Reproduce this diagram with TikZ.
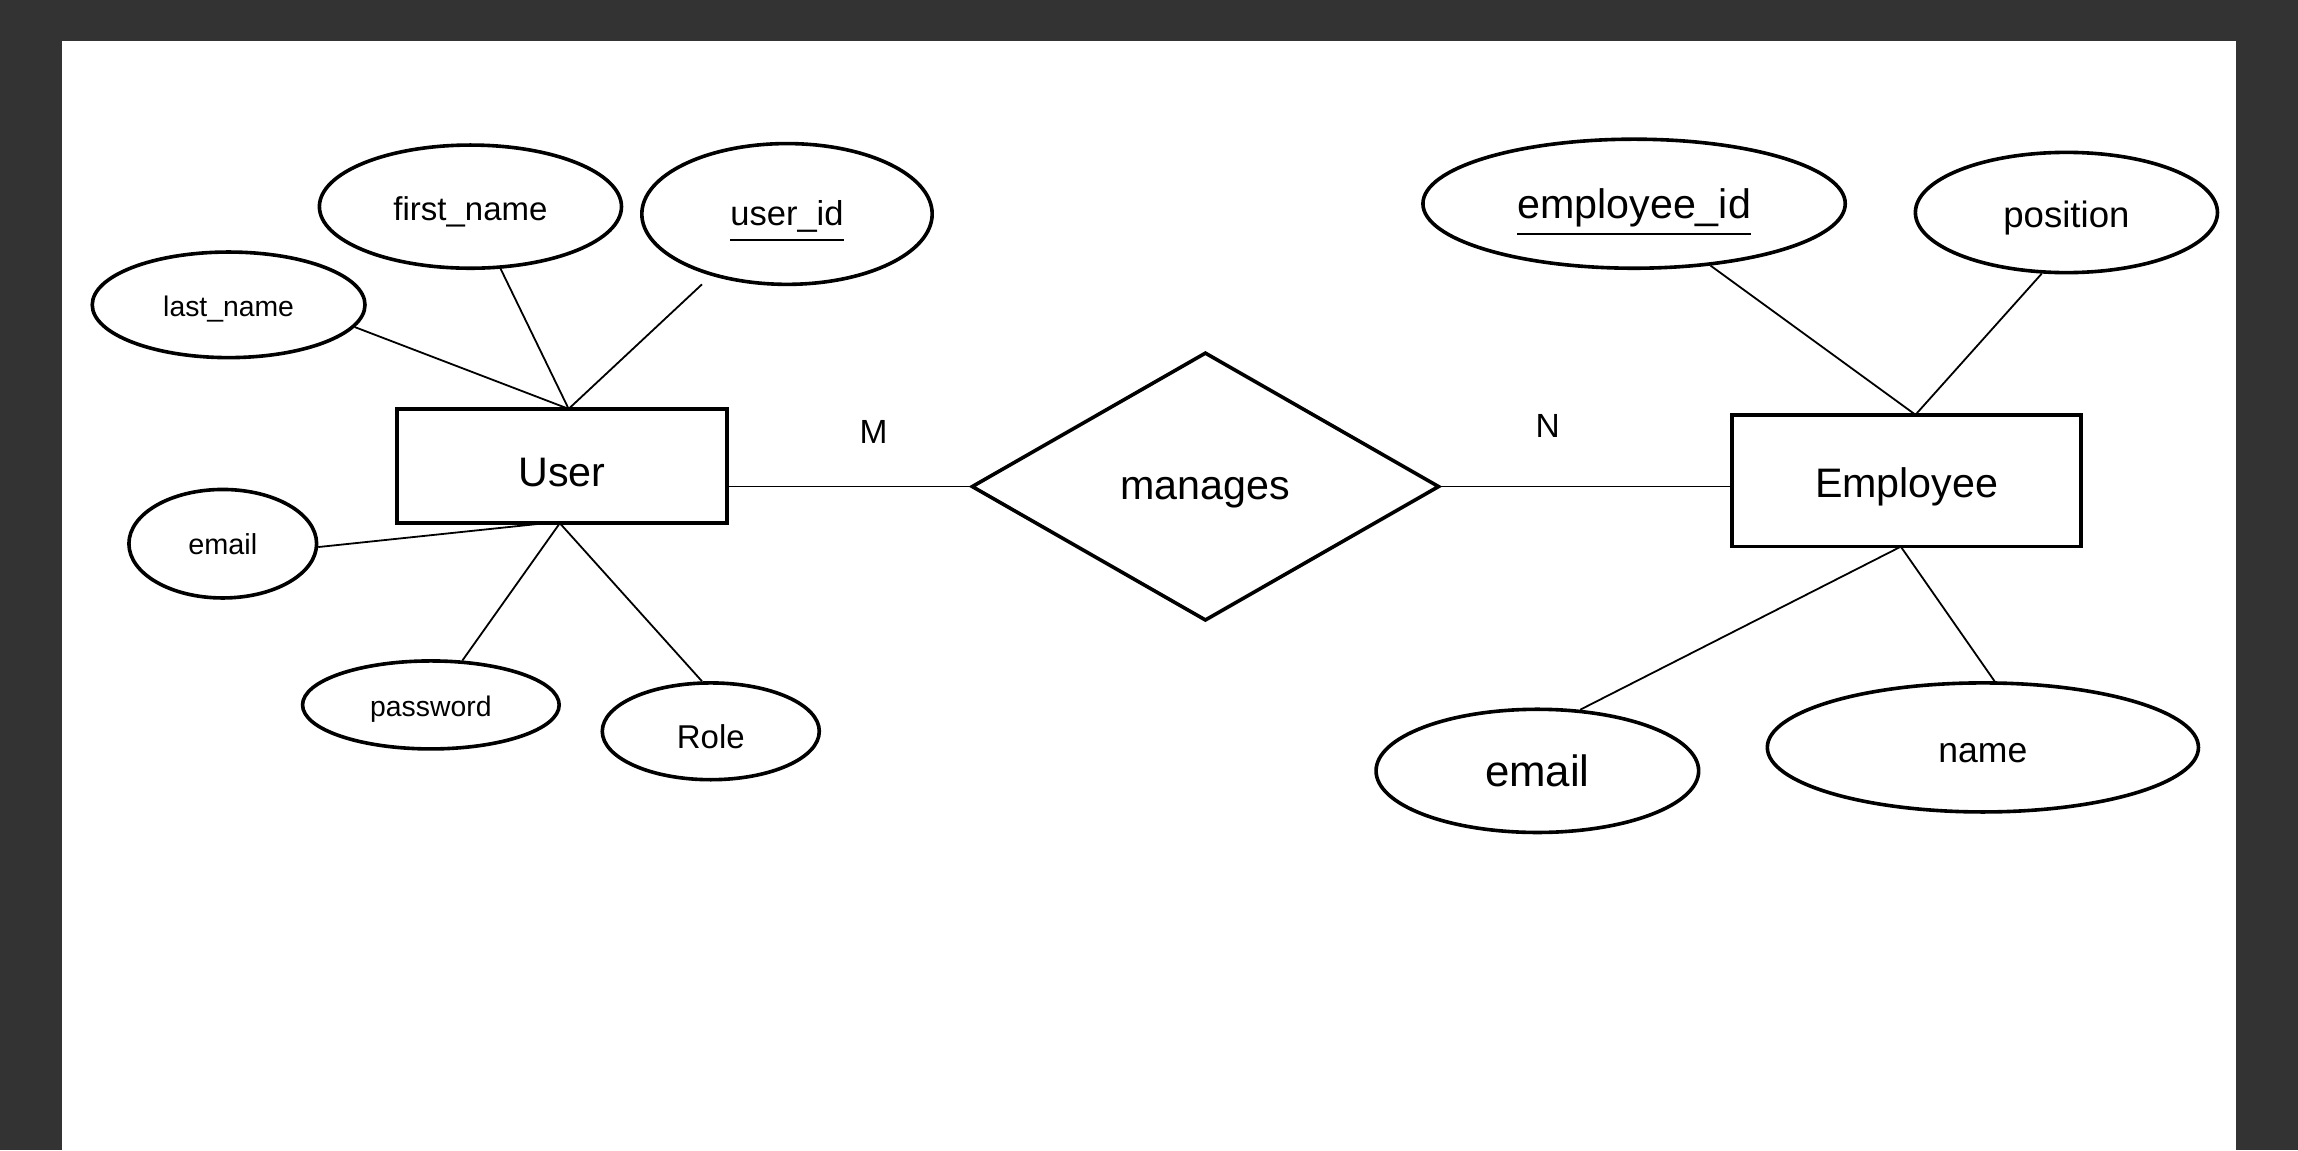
\documentclass[tikz,border=0pt]{standalone}
\usepackage{fontspec}
\setmainfont{Liberation Sans}
\usetikzlibrary{shapes.geometric}
\definecolor{frame}{HTML}{333333}
\newcommand{\fsz}[1]{\fontsize{#1}{#1}\selectfont}
\newcommand{\nudge}[2][0.15em]{\raisebox{-#1}[\height][\depth]{#2}}

\begin{document}
\begin{tikzpicture}[x=0.01cm, y=-0.01cm,
  attr/.style={draw, ellipse, line width=0.7pt, inner sep=0pt},
  entity/.style={draw, rectangle, line width=0.7pt, inner sep=0pt, font=\fsz{8}},
  rel/.style={draw, diamond, line width=0.7pt, inner sep=0pt, font=\fsz{8}},
  link/.style={line width=0.35pt},
  card/.style={font=\fsz{6.5}}]
  \fill[frame] (0, 0) rectangle (1568, 785);
  \fill[white] (42, 28) rectangle (1526, 785);
  \useasboundingbox (0, 0) rectangle (1568, 785);
  % entities and relationship
  \node[entity, minimum width=2.25cm, minimum height=0.78cm] (user) at (383.5, 318) {\nudge{User}\hspace{8pt}};
  \node[entity, minimum width=2.38cm, minimum height=0.90cm] (emp) at (1301, 328) {\nudge{Employee}};
  \node[rel, minimum width=3.19cm, minimum height=1.83cm] (manages) at (822.5, 332) {\nudge{manages}};
  % user attributes
  \node[attr, minimum width=1.86cm, minimum height=0.72cm, font=\fsz{5.5}] (lname) at (156, 208) {\nudge{last\_name}};
  \node[attr, minimum width=2.06cm, minimum height=0.84cm, font=\fsz{6.4}] (fname) at (321, 141) {\nudge{first\_name}};
  \node[attr, minimum width=1.98cm, minimum height=0.96cm, font=\fsz{6.7}] (uid) at (537, 146) {\nudge[0.22em]{\underline{user\_id}}};
  \node[attr, minimum width=1.28cm, minimum height=0.74cm, font=\fsz{5.6}] (umail) at (152, 371) {email};
  \node[attr, minimum width=1.75cm, minimum height=0.60cm, font=\fsz{5.5}] (pwd) at (294, 481) {\nudge{password}};
  \node[attr, minimum width=1.48cm, minimum height=0.66cm, font=\fsz{6.4}] (role) at (485, 499) {\nudge{Role}};
  % employee attributes
  \node[attr, minimum width=2.88cm, minimum height=0.88cm, font=\fsz{8}] (eid) at (1115, 139) {\nudge[0.22em]{\underline{employee\_id}}};
  \node[attr, minimum width=2.06cm, minimum height=0.82cm, font=\fsz{7.1}] (pos) at (1410, 145) {\nudge{position}};
  \node[attr, minimum width=2.20cm, minimum height=0.84cm, font=\fsz{8.5}] (email) at (1049, 526) {email};
  \node[attr, minimum width=2.94cm, minimum height=0.88cm, font=\fsz{6.9}] (name) at (1353, 510) {\nudge{name}};
  % cardinalities
  \node[card] (m) at (596, 295) {M};
  \node[card] (n) at (1056, 291) {N};
  % connectors
  \coordinate (utop) at (388, 279);
  \coordinate (ubot) at (382, 357);
  \coordinate (umid) at (372, 357);
  \coordinate (uidfoot) at (479, 194);
  \coordinate (etop) at (1307, 283);
  \coordinate (ebot) at (1297, 373);
  \draw[link] (lname.-10) -- (utop);
  \draw[link] (fname) -- (utop);
  \draw[link] (uidfoot) -- (utop);
  \draw[link] (umail.-2) -- (umid);
  \draw[link] (pwd) -- (ubot);
  \draw[link] (role.100) -- (ubot);
  \draw[link] (eid.-39) -- (etop);
  \draw[link] (pos.-112) -- (etop);
  \draw[link] (email.55) -- (ebot);
  \draw[link] (name.80) -- (ebot);
  \draw[link] (user.east |- manages.west) -- (manages.west);
  \draw[link] (manages.east) -- (emp.west |- manages.east);
\end{tikzpicture}
\end{document}
